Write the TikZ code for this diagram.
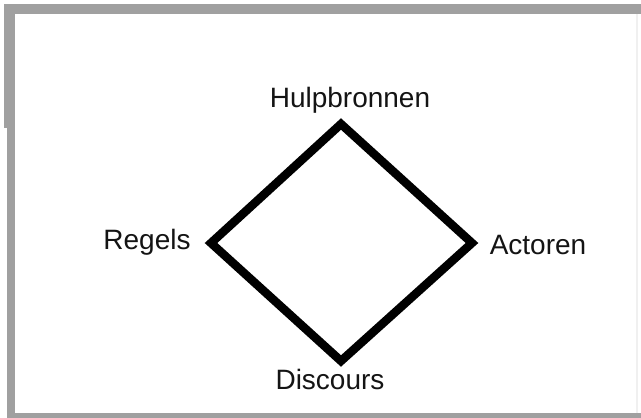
\documentclass[tikz,border=0pt]{standalone}
\usepackage{fontspec}
\setmainfont{Liberation Sans}
\definecolor{framegray}{HTML}{A0A0A0}
\definecolor{inkgray}{HTML}{141414}
\begin{document}
\begin{tikzpicture}[x=1pt,y=-1pt,
  label/.style={font=\fontsize{28}{31}\selectfont, text=inkgray, inner sep=0pt, anchor=base},
  edge/.style={line width=8.5pt, line join=miter, draw=black}]
\useasboundingbox (0,0) rectangle (641,418);
\fill[white] (0,0) rectangle (641,418);
% grey frame
\fill[framegray] (4,4) rectangle (641,14);
\fill[framegray] (4,4) rectangle (15,128);
\fill[framegray] (7,128) rectangle (15,418);
\fill[framegray] (7,413) rectangle (641,418);
\draw[gray!12, line width=1.5pt] (637,14) -- (637,413);
% corner points of the diamond
\coordinate (top) at (341,124);
\coordinate (lft) at (211,243);
\coordinate (rgt) at (472,243);
\coordinate (bot) at (341,361);
\draw[edge] (top) -- (rgt) -- (bot) -- (lft) -- cycle;
% labels
\node[label] (hulp) at (350,107) {Hulpbronnen};
\node[label] (regels) at (147,249) {Regels};
\node[label] (actoren) at (538,254) {Actoren};
\node[label] (disc) at (330,389) {Discours};
\end{tikzpicture}
\end{document}
